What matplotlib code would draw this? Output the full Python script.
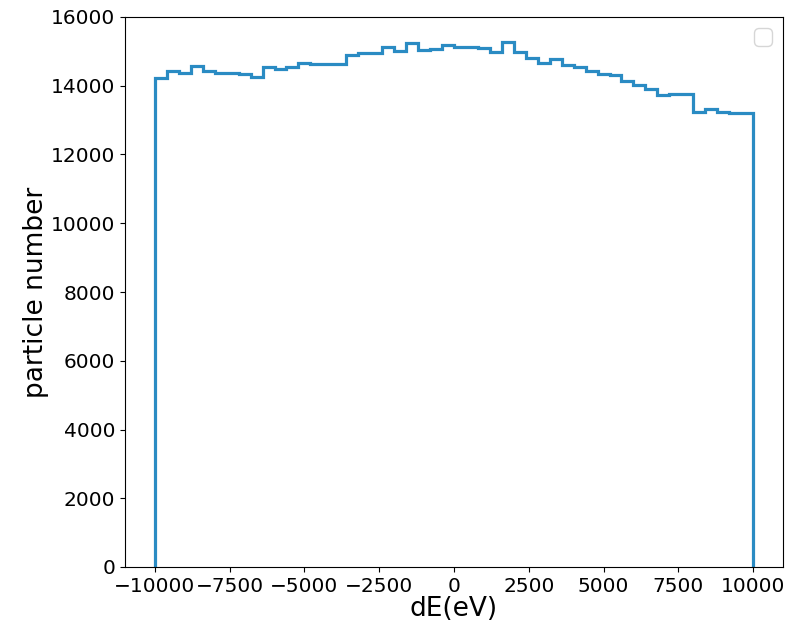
import matplotlib
matplotlib.use("Agg")
import matplotlib.pyplot as plt
import numpy as np

# bin edges of dE (eV) and particle counts per bin
bin_edges = np.linspace(-10000, 10000, 51)
counts = [
    14217, 14430, 14380, 14575, 14430, 14380, 14360, 14330, 14265, 14555,
    14500, 14555, 14655, 14635, 14635, 14640, 14890, 14945, 14965, 15140,
    15010, 15250, 15050, 15080, 15185, 15130, 15120, 15100, 14990, 15265,
    14970, 14815, 14670, 14770, 14615, 14545, 14430, 14340, 14310, 14145,
    14020, 13895, 13740, 13765, 13765, 13236, 13310, 13236, 13200, 13205,
]

fig = plt.figure(figsize=(7.93, 6.25), dpi=100)
ax = fig.add_axes([0.1576, 0.0928, 0.8298, 0.88])

ax.hist(bin_edges[:-1], bins=bin_edges, weights=counts, histtype='step',
        color='#2a8bc3', linewidth=2.3)

ax.set_ylim(0, 16000)
ax.set_xticks([-10000, -7500, -5000, -2500, 0, 2500, 5000, 7500, 10000])
ax.tick_params(labelsize=14.5)
ax.set_xlabel("dE(eV)", fontsize=19, labelpad=0)
ax.set_ylabel("particle number", fontsize=19, labelpad=1)
ax.legend(fontsize=16)

plt.savefig("out.png", dpi=100)
